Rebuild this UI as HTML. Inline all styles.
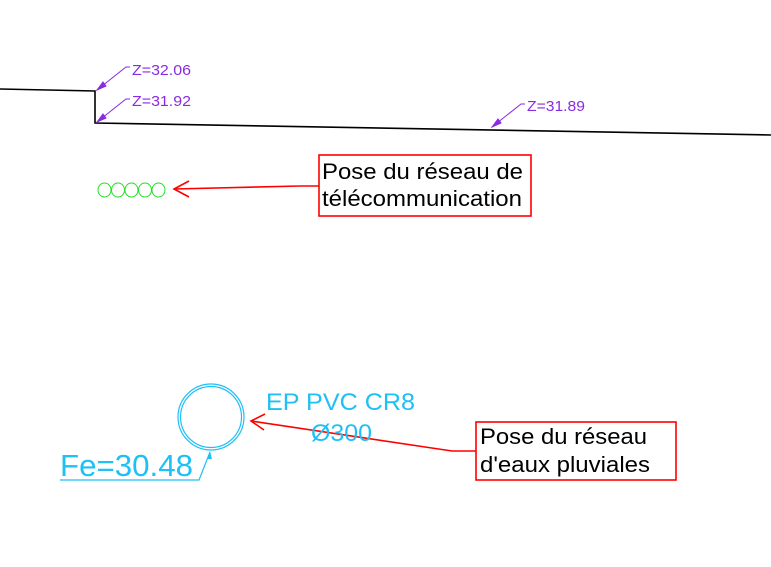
<!DOCTYPE html>
<html><head><meta charset="utf-8"><style>
html,body{margin:0;padding:0;background:#fff;}
svg{display:block;font-family:"Liberation Sans",sans-serif;}
</style></head><body>
<svg width="771" height="567" viewBox="0 0 771 567" xmlns="http://www.w3.org/2000/svg">
<polyline points="0,89 95,91 95,123 771,135" fill="none" stroke="#000" stroke-width="1.6"/>
<g stroke="#8a2be2" stroke-width="1" fill="#8a2be2">
<polyline points="130,67 126,67 97,90" fill="none"/>
<polygon points="97,90 103,82 106,86"/>
<polyline points="130,99 126,99 97,122" fill="none"/>
<polygon points="97,122 103,114 106,118"/>
<polyline points="525,104 521,104 492,127" fill="none"/>
<polygon points="492,127 498,119 501,123"/>
</g>
<g fill="#8a2be2" font-size="15" lengthAdjust="spacingAndGlyphs">
<text x="132" y="75" textLength="59" lengthAdjust="spacingAndGlyphs">Z=32.06</text>
<text x="132" y="106" textLength="59" lengthAdjust="spacingAndGlyphs">Z=31.92</text>
<text x="527" y="111" textLength="58" lengthAdjust="spacingAndGlyphs">Z=31.89</text>
</g>
<g fill="none" stroke="#22e022" stroke-width="1">
<ellipse cx="104.5" cy="190" rx="6.5" ry="7"/>
<ellipse cx="118" cy="190" rx="6.5" ry="7"/>
<ellipse cx="131.5" cy="190" rx="6.5" ry="7"/>
<ellipse cx="145" cy="190" rx="6.5" ry="7"/>
<ellipse cx="158.5" cy="190" rx="6.5" ry="7"/>
</g>
<g fill="none" stroke="#f00" stroke-width="1.6">
<polyline points="319,186 300,186 174,189"/>
<polyline points="189,181 174,189 189,197"/>
<rect x="319" y="155" width="212" height="61"/>
<polyline points="476,451 452,451 251,421"/>
<polyline points="265,414 251,421 264,430"/>
<rect x="476" y="422" width="200" height="58"/>
</g>
<g fill="#000" font-size="22">
<text x="322" y="179" textLength="201" lengthAdjust="spacingAndGlyphs">Pose du réseau de</text>
<text x="322" y="206" textLength="200" lengthAdjust="spacingAndGlyphs">télécommunication</text>
<text x="480" y="444" textLength="167" lengthAdjust="spacingAndGlyphs">Pose du réseau</text>
<text x="480" y="472" textLength="170" lengthAdjust="spacingAndGlyphs">d'eaux pluviales</text>
</g>
<g fill="none" stroke="#1ec0f5" stroke-width="1.2">
<circle cx="211" cy="417" r="33"/>
<circle cx="211" cy="417" r="30.5"/>
<polyline points="60,480 199,480 210,452"/>
</g>
<polygon points="210,451 207,459 212,459" fill="#1ec0f5"/>
<g fill="#1ec0f5">
<text x="266" y="410" font-size="24" textLength="149" lengthAdjust="spacingAndGlyphs">EP PVC CR8</text>
<text x="311" y="441" font-size="24" textLength="61" lengthAdjust="spacingAndGlyphs">Ø300</text>
<text x="60" y="476" font-size="31" textLength="133" lengthAdjust="spacingAndGlyphs">Fe=30.48</text>
</g>
</svg>
</body></html>
